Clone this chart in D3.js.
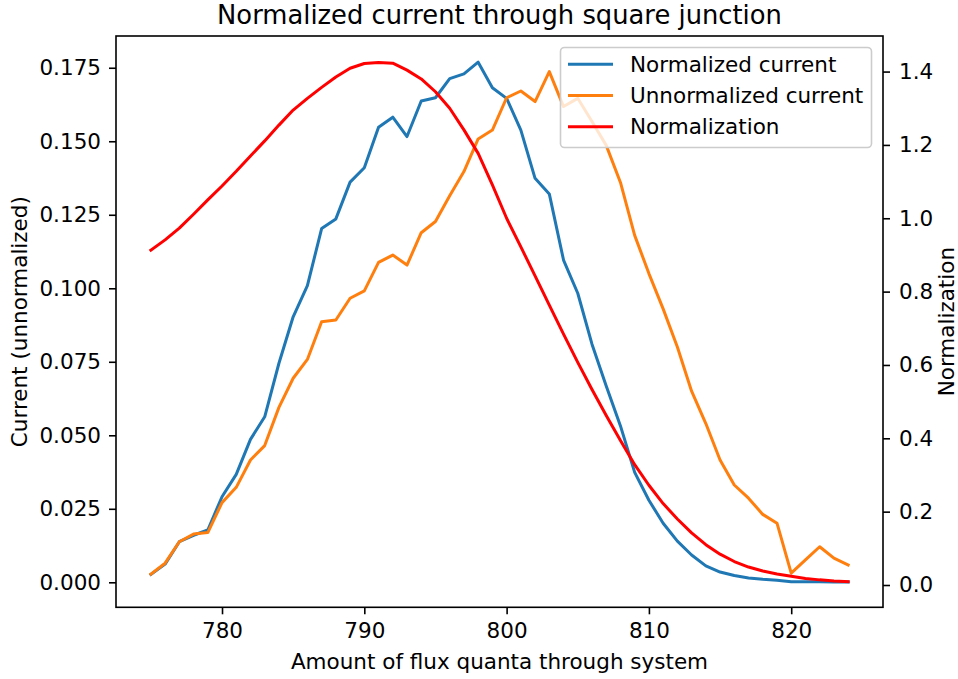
<!DOCTYPE html>
<html>
<head>
<meta charset="utf-8">
<script src="https://cdn.jsdelivr.net/npm/d3@7"></script>
<style>
    body { margin: 0; background: #fff; }
    svg text { font-family: "DejaVu Sans", sans-serif; fill: #000; }
</style>
</head>
<body>
<svg id="chart" width="958" height="679"></svg>
<script>
"use strict";

// flux quanta through the system (x axis)
const flux = [775, 776, 777, 778, 779, 780, 781, 782, 783, 784,
              785, 786, 787, 788, 789, 790, 791, 792, 793, 794,
              795, 796, 797, 798, 799, 800, 801, 802, 803, 804,
              805, 806, 807, 808, 809, 810, 811, 812, 813, 814,
              815, 816, 817, 818, 819, 820, 821, 822, 823, 824];

// left axis
const normalizedCurrent = [0.0027, 0.0062, 0.0138, 0.0160, 0.0178, 0.0291, 0.0367, 0.0486, 0.0563, 0.0745,
                           0.0903, 0.1009, 0.1203, 0.1236, 0.1361, 0.1410, 0.1548, 0.1582, 0.1516, 0.1637,
                           0.1648, 0.1713, 0.1729, 0.1769, 0.1682, 0.1646, 0.1538, 0.1374, 0.1321, 0.1096,
                           0.0983, 0.0810, 0.0668, 0.0532, 0.0374, 0.0279, 0.0201, 0.0140, 0.0093, 0.0056,
                           0.0035, 0.0023, 0.0015, 0.0010, 0.0007, 0.0002, 0.0002, 0.0002, 0.0001, 0.0001];

const unnormalizedCurrent = [0.0028, 0.0065, 0.0138, 0.0164, 0.0169, 0.0271, 0.0323, 0.0416, 0.0465, 0.0595,
                             0.0694, 0.0758, 0.0886, 0.0892, 0.0966, 0.0991, 0.1088, 0.1113, 0.1079, 0.1189,
                             0.1227, 0.1315, 0.1397, 0.1508, 0.1538, 0.1648, 0.1671, 0.1635, 0.1737, 0.1618,
                             0.1646, 0.1567, 0.1486, 0.1360, 0.1180, 0.1050, 0.0930, 0.0800, 0.0650, 0.0540,
                             0.0416, 0.0331, 0.0286, 0.0231, 0.0201, 0.0031, 0.0076, 0.0121, 0.0082, 0.0059];

// right axis
const normalization = [0.913, 0.941, 0.973, 1.011, 1.050, 1.088, 1.128, 1.170, 1.211, 1.254,
                       1.295, 1.327, 1.357, 1.385, 1.409, 1.422, 1.425, 1.423, 1.404, 1.380,
                       1.345, 1.300, 1.241, 1.177, 1.091, 1.000, 0.922, 0.843, 0.763, 0.684,
                       0.607, 0.533, 0.462, 0.394, 0.328, 0.272, 0.222, 0.180, 0.142, 0.110,
                       0.084, 0.064, 0.049, 0.038, 0.030, 0.024, 0.018, 0.014, 0.011, 0.009];

const xTicks = [780, 790, 800, 810, 820];
const leftTicks = [0, 0.025, 0.05, 0.075, 0.1, 0.125, 0.15, 0.175];
const rightTicks = [0, 0.2, 0.4, 0.6, 0.8, 1.0, 1.2, 1.4];

const legendLabels = ["Normalized current", "Unnormalized current", "Normalization"];
const colors = ["#1f77b4", "#ff7f0e", "#ff0000"];

const LEFT = 116, RIGHT = 883, TOP = 36, BOTTOM = 607.3;
const FONT = 21.5;

let svg = d3.select("#chart");

let x = d3.scaleLinear()
          .domain([772.55, 826.45])
          .range([LEFT, RIGHT]);
let yLeft = d3.scaleLinear()
              .domain([-0.0085, 0.1858])
              .range([BOTTOM, TOP]);
let yRight = d3.scaleLinear()
               .domain([-0.0608, 1.497])
               .range([BOTTOM, TOP]);

/**
 * Draw one series as a polyline
 */
function drawLine(values, yScale, color)
{
    let line = d3.line()
                 .x((d, i)=>{return x(flux[i]);})
                 .y((d)=>{return yScale(d);});
    svg.append("path")
       .datum(values)
       .attr("fill", "none")
       .attr("stroke", color)
       .attr("stroke-width", 3)
       .attr("stroke-linejoin", "round")
       .attr("stroke-linecap", "square")
       .attr("d", line);
}

drawLine(normalizedCurrent, yLeft, colors[0]);
drawLine(unnormalizedCurrent, yLeft, colors[1]);
drawLine(normalization, yRight, colors[2]);

function styleAxis(g)
{
    g.select(".domain").remove();
    g.selectAll(".tick line").attr("stroke", "#000").attr("stroke-width", 1.6);
    g.selectAll(".tick text").attr("font-size", FONT).attr("fill", "#000");
}

svg.append("g")
   .attr("transform", "translate(0," + BOTTOM + ")")
   .call(d3.axisBottom(x).tickValues(xTicks).tickSize(7).tickPadding(8).tickFormat(d3.format("d")))
   .call(styleAxis);

svg.append("g")
   .attr("transform", "translate(" + LEFT + ",0)")
   .call(d3.axisLeft(yLeft).tickValues(leftTicks).tickSize(7).tickPadding(8).tickFormat(d3.format(".3f")))
   .call(styleAxis);

svg.append("g")
   .attr("transform", "translate(" + RIGHT + ",0)")
   .call(d3.axisRight(yRight).tickValues(rightTicks).tickSize(7).tickPadding(9).tickFormat(d3.format(".1f")))
   .call(styleAxis);

// axes frame
svg.append("rect")
   .attr("x", LEFT)
   .attr("y", TOP)
   .attr("width", RIGHT - LEFT)
   .attr("height", BOTTOM - TOP)
   .attr("fill", "none")
   .attr("stroke", "#000")
   .attr("stroke-width", 1.6);

// legend
let legend = svg.append("g");
legend.append("rect")
      .attr("x", 560.5)
      .attr("y", 47.5)
      .attr("width", 311)
      .attr("height", 100)
      .attr("rx", 4)
      .attr("fill", "#fff")
      .attr("fill-opacity", 0.8)
      .attr("stroke", "#cccccc")
      .attr("stroke-width", 1.6);

legendLabels.forEach((label, i)=>
{
    let ly = 64.3 + i * 31.2;
    legend.append("line")
          .attr("x1", 568).attr("x2", 613)
          .attr("y1", ly).attr("y2", ly)
          .attr("stroke", colors[i])
          .attr("stroke-width", 3);
    legend.append("text")
          .attr("x", 630)
          .attr("y", ly)
          .attr("dy", "0.35em")
          .attr("font-size", FONT)
          .text(label);
});

// titles
svg.append("text")
   .attr("x", (LEFT + RIGHT) / 2)
   .attr("y", 23.5)
   .attr("text-anchor", "middle")
   .attr("font-size", 25.8)
   .text("Normalized current through square junction");

svg.append("text")
   .attr("x", (LEFT + RIGHT) / 2)
   .attr("y", 668.5)
   .attr("text-anchor", "middle")
   .attr("font-size", FONT)
   .text("Amount of flux quanta through system");

svg.append("text")
   .attr("transform", "translate(27," + (TOP + BOTTOM) / 2 + ") rotate(-90)")
   .attr("text-anchor", "middle")
   .attr("font-size", FONT)
   .text("Current (unnormalized)");

svg.append("text")
   .attr("transform", "translate(954," + (TOP + BOTTOM) / 2 + ") rotate(-90)")
   .attr("text-anchor", "middle")
   .attr("font-size", FONT)
   .text("Normalization");
</script>
</body>
</html>
